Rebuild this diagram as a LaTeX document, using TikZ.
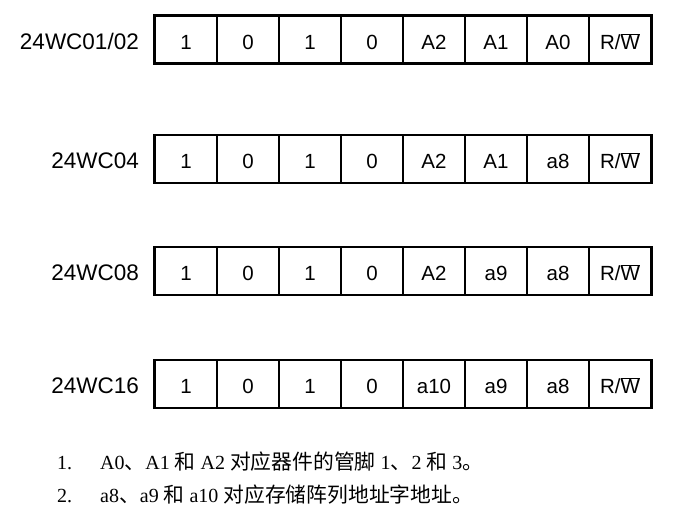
\documentclass[tikz,border=0pt]{standalone}
\usepackage{fontspec}
\setmainfont{Liberation Serif}
\newfontfamily\arial{Liberation Sans}
\newfontfamily\cjk{Noto Sans CJK SC}
\newcommand{\rwbit}{R/$\overline{\mbox{W}}$}
\newcommand{\zh}[1]{{\cjk\fontsize{20.8}{24}\selectfont #1}}

\tikzset{
  bitcell/.style={draw, line width=1.4pt, minimum width=62pt, minimum height=47pt, inner sep=0pt,
    text height=19.5pt, text depth=0pt, font=\arial\fontsize{20.5}{24}\selectfont},
  bitframe/.style={line width=2.2pt},
  chiplabel/.style={anchor=east, inner sep=0pt, yshift=-1.5pt, font=\arial\fontsize{22.5}{26}\selectfont},
  notetext/.style={anchor=base west, inner sep=0pt, font=\fontsize{20}{24}\selectfont}
}

\begin{document}
\begin{tikzpicture}[x=1pt,y=-1pt]
  \useasboundingbox (0,0) rectangle (674,518);
  \foreach \r/\yc/\chip/\ba/\bb/\bc in {1/39.5/{24WC01/02}/A2/A1/A0, 2/159/24WC04/A2/A1/a8,
      3/271/24WC08/A2/a9/a8, 4/384/24WC16/a10/a9/a8} {
    \node[chiplabel] (chip\r) at (139,\yc) {\chip};
    \foreach \bit [count=\i] in {1,0,1,0,\ba,\bb,\bc,\rwbit} {
      \node[bitcell] (b\r-\i) at ({155+62*(\i-0.5)},\yc) {\bit};
    }
    \draw[bitframe] (b\r-1.north west) rectangle (b\r-8.south east);
  }
  % notes
  \node[notetext] (num1) at (57,469) {1.};
  \node[notetext] (note1) at (100,469) {A0\zh{、}A1 \zh{和} A2 \zh{对应器件的管脚} 1\zh{、}2 \zh{和} 3\zh{。}};
  \node[notetext] (num2) at (57,502) {2.};
  \node[notetext] (note2) at (100,502) {a8\zh{、}a9 \zh{和} a10 \zh{对应存储阵列地址字地址。}};
\end{tikzpicture}
\end{document}
